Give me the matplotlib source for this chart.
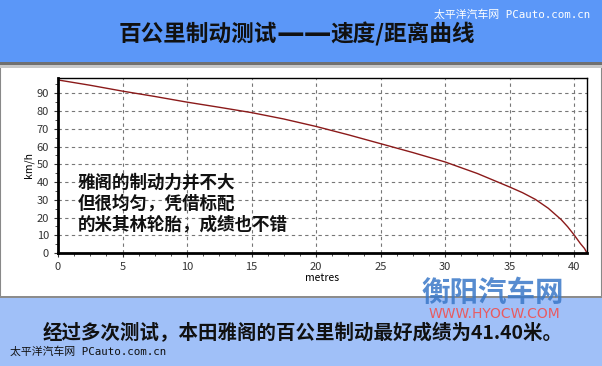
import matplotlib.pyplot as plt
from matplotlib.patches import Rectangle
from matplotlib.ticker import MultipleLocator

plt.rcParams['font.family'] = ['Noto Sans CJK SC', 'DejaVu Sans']

# speed / distance
dist = [0, 2.5, 5, 7.5, 10, 12.5, 15, 17.5, 20, 22.5, 25, 27.5, 30, 32.5,
        35, 36, 37, 38, 39, 39.5, 40, 40.5, 40.8, 41.0]
speed = [97.5, 94.5, 91.2, 88.2, 85.0, 82.1, 79.1, 75.5, 71.3, 66.6, 61.6, 56.6, 51.3, 44.8,
         37.2, 34.0, 30.2, 25.2, 18.8, 14.8, 10.2, 5.2, 2.6, 0]

x_ticks = [0, 5, 10, 15, 20, 25, 30, 35, 40]
y_ticks = [0, 10, 20, 30, 40, 50, 60, 70, 80, 90]

title_left = "百公里制动测试"
title_dash = "——"
title_right = "速度/距离曲线"
note = "雅阁的制动力并不大\n但很均匀，凭借标配\n的米其林轮胎，成绩也不错"
summary = "经过多次测试，本田雅阁的百公里制动最好成绩为41.40米。"
watermark = "太平洋汽车网 PCauto.com.cn"

fig = plt.figure(figsize=(6.02, 3.66), dpi=100)
W, H = 602, 366

def box(x0, y0, x1, y1, **kw):
    # pixel box (top-left origin) -> figure coords, behind the axes
    fig.patches.append(Rectangle((x0 / W, 1 - y1 / H), (x1 - x0) / W, (y1 - y0) / H,
                                 transform=fig.transFigure, zorder=-10, **kw))

def px(x, y):
    return x / W, 1 - y / H

box(0, 0, W, H, facecolor='#ffffff', edgecolor='#888888', lw=1.5)
box(0, 0, W, 62, facecolor='#5b97f8', edgecolor='none')
box(0, 62, W, 65, facecolor='#707070', edgecolor='none')
box(0, 65, W, 68, facecolor='#c8c8c8', edgecolor='none')
box(0, 296, W, 298, facecolor='#8c8c8c', edgecolor='none')
box(0, 298, W, H, facecolor='#a0c0f8', edgecolor='none')

# title in three pieces so the long dash can be stretched like the original
fig.text(*px(277, 34), title_left, ha='right', va='center', fontsize=16.3,
         fontweight='heavy', color='#111111')
fig.text(*px(304, 34.5), title_dash, ha='center', va='center', fontsize=20,
         fontweight='bold', color='#111111', family=['DejaVu Sans'])
fig.text(*px(330, 34), title_right, ha='left', va='center', fontsize=16.3,
         fontweight='heavy', color='#111111')

wm_font = ['DejaVu Sans Mono', 'Noto Sans CJK SC']
fig.text(*px(434, 15), watermark, ha='left', va='center', fontsize=7.8,
         color='white', family=wm_font)
fig.text(*px(10, 352), watermark, ha='left', va='center', fontsize=7.8,
         color='#111111', family=wm_font)
fig.text(*px(303, 333), summary, ha='center', va='center', fontsize=14,
         fontweight='bold', color='#111111')
fig.text(*px(493, 293), "衡阳汽车网", ha='center', va='center', fontsize=20.5,
         fontweight='heavy', style='italic', color='#3a78c8', alpha=0.85)
fig.text(*px(494, 314.5), "WWW.HYOCW.COM", ha='center', va='center', fontsize=10,
         color='#f05050', alpha=0.9, family=['DejaVu Sans'])

ax = fig.add_axes([58 / W, 1 - 253 / H, 529 / W, 175 / H])
ax.plot(dist, speed, color='#8b1a1a', lw=1)
ax.set_xlim(0, 41.0)
ax.set_ylim(0, 98.6)
ax.set_xticks(x_ticks)
ax.set_yticks(y_ticks)
ax.xaxis.set_minor_locator(MultipleLocator(1.25))
ax.yaxis.set_minor_locator(MultipleLocator(5))
ax.grid(True, which='major', linestyle=(0, (3, 3)), color='#777777', lw=0.8)
ax.tick_params(which='major', labelsize=8, length=3, colors='#333333')
ax.tick_params(which='minor', length=2, color='#333333')
ax.spines['left'].set_linewidth(2)
ax.spines['bottom'].set_linewidth(2)
ax.spines['top'].set_linewidth(1)
ax.spines['right'].set_linewidth(1)
ax.set_xlabel("metres", fontsize=7.5, labelpad=1)
ax.set_ylabel("km/h", fontsize=7.5, labelpad=2)

ax.text(1.5, 44.5, note, ha='left', va='top', fontsize=12.6, fontweight='bold',
        color='#111111', linespacing=1.2)

fig.savefig("out.png", dpi=100)
